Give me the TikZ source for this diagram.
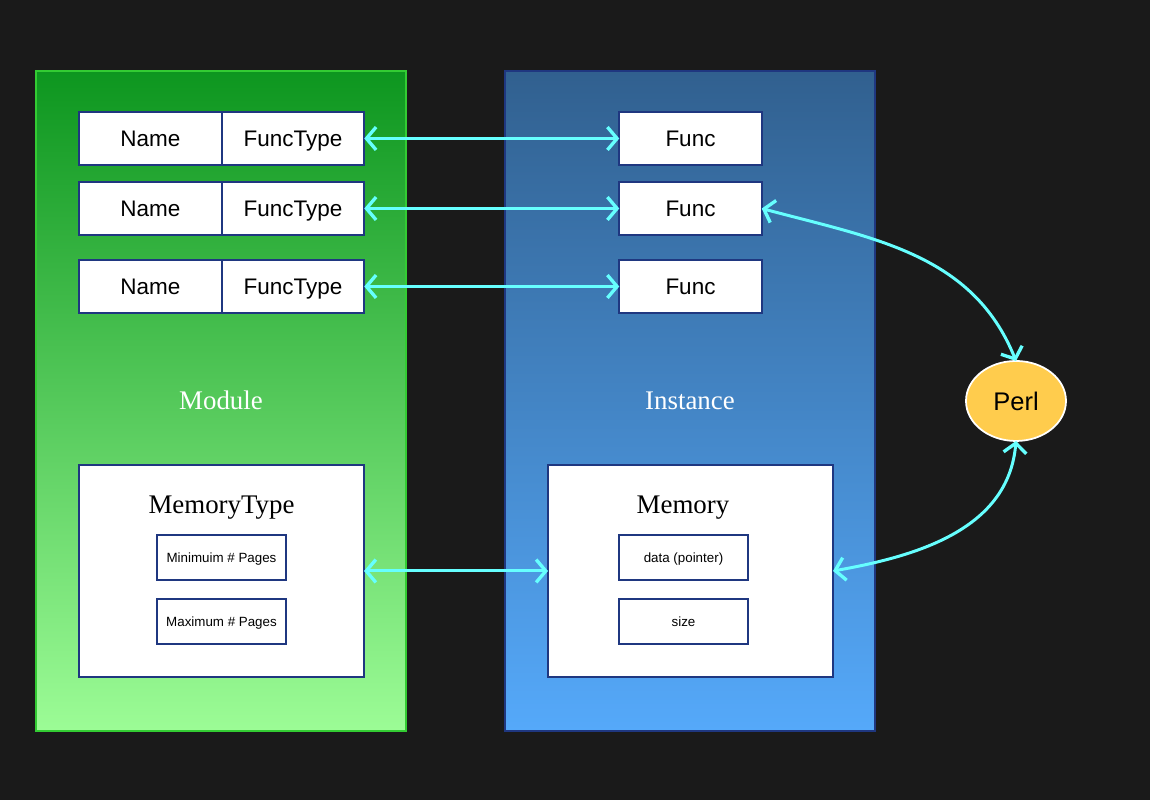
\documentclass[tikz,border=0pt]{standalone}
\usepackage{fontspec}
\setmainfont{Liberation Serif}
\setsansfont{Liberation Sans}
\usetikzlibrary{positioning,arrows.meta,shapes.geometric}
\definecolor{bgdark}{HTML}{1A1A1A}
\definecolor{boxblue}{HTML}{1F3780}
\definecolor{linkcyan}{HTML}{66FFFF}
\definecolor{modtop}{HTML}{0D961F}
\definecolor{modbot}{HTML}{9CFC96}
\definecolor{modedge}{HTML}{33CC33}
\definecolor{insttop}{HTML}{31608F}
\definecolor{instbot}{HTML}{55A9FA}
\definecolor{perlfill}{HTML}{FFCC4D}

\begin{document}
\begin{tikzpicture}[
    every node/.style={inner sep=0pt, outer sep=0pt},
    container/.style={minimum width=7.4cm, minimum height=13.2cm, line width=1.1pt},
    field/.style={draw=boxblue, line width=1.2pt, fill=white, minimum width=2.85cm,
      minimum height=1.06cm, text height=9.2pt, text depth=0pt,
      font=\sffamily\fontsize{12.8}{15}\selectfont},
    memcard/.style={draw=boxblue, line width=1.2pt, fill=white, minimum width=5.7cm,
      minimum height=4.24cm},
    subfield/.style={draw=boxblue, line width=1.2pt, fill=white, minimum width=2.58cm,
      minimum height=0.9cm, text height=5.5pt, text depth=0pt,
      font=\sffamily\fontsize{7.6}{9}\selectfont},
    title/.style={text height=10.2pt, text depth=0pt, font=\fontsize{15.3}{18}\selectfont},
    link/.style={<->, draw=linkcyan, line width=1.7pt,
      >={Straight Barb[length=5.5pt,width=13pt,line width=1.9pt]}}
  ]
  % background
  \fill[bgdark] (0,0) rectangle (23,16);
  \useasboundingbox (0,0) rectangle (23,16);

  % Module and Instance panels
  \node[container, draw=modedge, top color=modtop, bottom color=modbot] (module) at (4.42,7.98) {};
  \node[container, draw=boxblue, top color=insttop, bottom color=instbot] (instance) at (13.8,7.98) {};
  \node[title, text=white] (modlabel) at (4.42,7.99) {Module};
  \node[title, text=white] (instlabel) at (13.8,7.99) {Instance};

  % exported functions
  \node[field] (name1) at (3.01,13.23) {Name};
  \node[field, right=0pt of name1] (ftype1) {FuncType};
  \node[field] (name2) at (3.01,11.83) {Name};
  \node[field, right=0pt of name2] (ftype2) {FuncType};
  \node[field] (name3) at (3.01,10.27) {Name};
  \node[field, right=0pt of name3] (ftype3) {FuncType};
  \node[field] (func1) at (13.81,13.23) {Func};
  \node[field] (func2) at (13.81,11.83) {Func};
  \node[field] (func3) at (13.81,10.27) {Func};

  % memory
  \node[memcard] (memtype) at (4.43,4.58) {};
  \node[title] at (4.43,5.9) {MemoryType};
  \node[subfield] (minpages) at (4.43,4.85) {Minimuim \# Pages};
  \node[subfield] (maxpages) at (4.43,3.57) {Maximum \# Pages};
  \node[memcard] (memory) at (13.81,4.58) {};
  \node[title] at (13.66,5.9) {Memory};
  \node[subfield] (memdata) at (13.67,4.85) {data (pointer)};
  \node[subfield] (memsize) at (13.67,3.57) {size};

  % Perl
  \node[ellipse, draw=white, line width=1pt, fill=perlfill, minimum width=2cm, minimum height=1.6cm,
    font=\sffamily\fontsize{14.5}{17}\selectfont] (perl) at (20.32,7.98) {Perl};

  % links
  \draw[link] (ftype1.east) to[out=0, in=180] (func1.west);
  \draw[link] (ftype2.east) to[out=0, in=180] (func2.west);
  \draw[link] (ftype3.east) to[out=0, in=180] (func3.west);
  \draw[link] (memtype.east) -- (memory.west);
  \draw[link] (func2.east) to[out=-15, in=112] (perl.north);
  \draw[link] (memory.east) to[out=10, in=-95] (perl.south);
\end{tikzpicture}
\end{document}
